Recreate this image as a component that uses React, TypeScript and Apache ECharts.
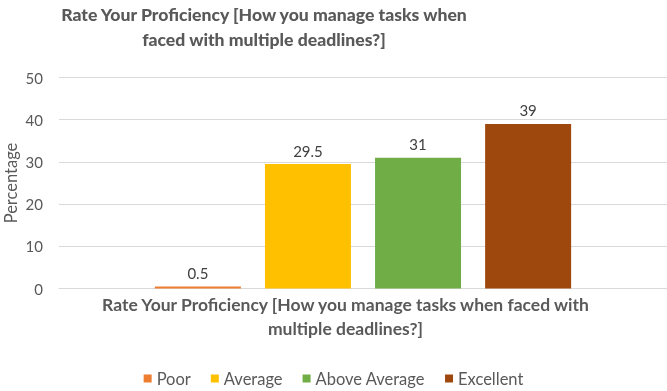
import React, { useEffect, useRef } from "react";
import * as echarts from "echarts";

const categories = ["Rate Your Proficiency [How you manage tasks when faced with\nmultiple deadlines?]"];
const seriesNames = ["Poor", "Average", "Above Average", "Excellent"];
const seriesValues = [[0.5], [29.5], [31], [39]];
const seriesColors = ["#ED7D31", "#FFC000", "#70AD47", "#9E480E"];
const titleText = "Rate Your Proficiency [How you manage tasks when\nfaced with multiple deadlines?]";
const yAxisName = "Percentage";

const FONT = "Lato, 'Noto Sans', sans-serif";

export default function App() {
  const ref = useRef<HTMLDivElement>(null);
  useEffect(() => {
    if (!ref.current) return;
    const chart = echarts.init(ref.current, null, { renderer: "svg" });
    chart.setOption({
      animation: false,
      textStyle: { fontFamily: FONT },
      title: {
        text: titleText,
        left: 259,
        top: -3,
        textAlign: "center",
        textStyle: { fontFamily: FONT, fontSize: 17.6, fontWeight: 900, color: "#595959", lineHeight: 25 },
      },
      legend: {
        bottom: -1,
        left: "center",
        itemWidth: 8,
        itemHeight: 8,
        itemGap: 20,
        icon: "rect",
        textStyle: { fontFamily: FONT, fontSize: 16.5, color: "#595959" },
        data: seriesNames,
      },
      grid: { left: 59, right: 0, top: 77.5, bottom: 102.5, containLabel: false, outerBoundsMode: "none" },
      xAxis: {
        type: "category",
        data: categories,
        axisLine: { lineStyle: { color: "#D9D9D9", width: 1 } },
        axisTick: { show: false },
        axisLabel: {
          fontFamily: FONT,
          fontSize: 17.5,
          fontWeight: "bold",
          color: "#595959",
          lineHeight: 24,
          margin: 4,
          padding: [0, 35, 0, 0],
        },
      },
      yAxis: {
        type: "value",
        min: 0,
        max: 50,
        interval: 10,
        name: yAxisName,
        nameLocation: "middle",
        nameGap: 40,
        nameMoveOverlap: false,
        nameTextStyle: { fontFamily: FONT, fontSize: 16.5, color: "#595959" },
        axisLine: { show: false },
        axisTick: { show: false },
        axisLabel: { fontFamily: FONT, fontSize: 15, color: "#595959", margin: 16 },
        splitLine: { lineStyle: { color: "#D9D9D9", width: 1 } },
      },
      series: seriesNames.map((name, i) => ({
        name,
        type: "bar",
        data: seriesValues[i],
        barWidth: 86,
        barGap: "28%",
        itemStyle: { color: seriesColors[i] },
        label: {
          show: true,
          position: "top",
          distance: 6,
          fontFamily: FONT,
          fontSize: 15,
          color: "#404040",
        },
      })),
    });
    return () => chart.dispose();
  }, []);
  return <div ref={ref} style={{ position: "fixed", left: 0, top: 0, width: 667, height: 391 }} />;
}
